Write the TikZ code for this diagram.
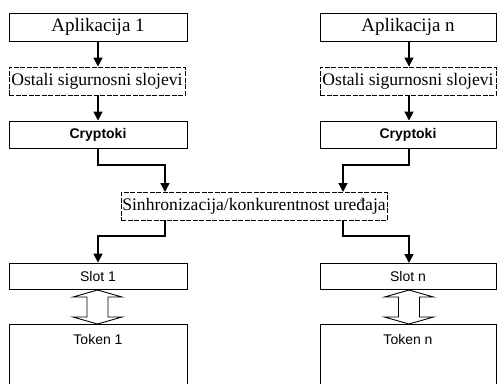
\documentclass[tikz,border=0pt]{standalone}
\usepackage{fontspec}
\setmainfont{Liberation Serif}
\setsansfont{Liberation Sans}
\usetikzlibrary{arrows.meta}
\begin{document}
\begin{tikzpicture}[x=1pt,y=-1pt,
  box/.style={draw, line width=0.9pt, fill=white, inner sep=0pt,
    minimum width=178pt, minimum height=28pt},
  dbox/.style={box, dash pattern=on 5pt off 1.5pt},
  serif/.style={font=\fontsize{17.6}{20}\selectfont},
  app/.style={font=\fontsize{19}{22}\selectfont},
  sans/.style={font=\sffamily\fontsize{14}{16}\selectfont},
  sansb/.style={font=\sffamily\bfseries\fontsize{14}{16}\selectfont},
  conn/.style={line width=1.6pt, -{Triangle[width=9pt,length=9pt]}},
  hollow/.style={draw, line width=0.9pt, fill=white, line join=miter},
  tokenbox/.style={draw, line width=0.9pt}]
\useasboundingbox (0,0) rectangle (497,383);

% left column
\node[box, app] (a1) at (98,27) {Aplikacija 1};
\node[dbox, serif, minimum width=176pt] (o1) at (97,81) {Ostali sigurnosni slojevi};
\node[box, sansb, minimum height=27pt] (c1) at (98,134.5) {Cryptoki};
\node[box, sans, minimum height=26pt] (s1) at (98,276) {Slot 1};
\draw[tokenbox] (9,384) |- (187,324) -- (187,384);
\node[sans] (t1) at (98,339.5) {Token 1};

% right column
\node[box, app, minimum width=176pt] (an) at (408,27) {Aplikacija n};
\node[dbox, serif, minimum width=176pt] (on) at (408,81) {Ostali sigurnosni slojevi};
\node[box, sansb, minimum width=176pt, minimum height=27pt] (cn) at (408,134.5) {Cryptoki};
\node[box, sans, minimum width=176pt, minimum height=26pt] (sn) at (408,276) {Slot n};
\draw[tokenbox] (320,384) |- (496,324) -- (496,384);
\node[sans] (tn) at (408,339.5) {Token n};

% shared layer
\node[dbox, serif, minimum width=266pt] (sy) at (254,206) {Sinhronizacija/konkurentnost uređaja};

% entry and exit points on the shared layer
\coordinate (syin1) at (165,192);
\coordinate (syinn) at (343,192);
\coordinate (syout1) at (165,220);
\coordinate (syoutn) at (343,220);

% vertical flow within each column
\draw[conn] (a1.south -| 98,0) -- (o1.north -| 98,0);
\draw[conn] (o1.south -| 98,0) -- (c1.north);
\draw[conn] (an.south -| 409,0) -- (on.north -| 409,0);
\draw[conn] (on.south -| 409,0) -- (cn.north -| 409,0);

% into and out of the shared layer
\draw[conn] (c1.south) -- (c1.south |- 0,165) -| (syin1);
\draw[conn] (cn.south -| 409,0) -- (409,165) -| (syinn);
\draw[conn] (syout1) -- (syout1 |- 0,236) -| (s1.north);
\draw[conn] (syoutn) -- (syoutn |- 0,236) -| (409,263);

% hollow double arrows between slot and token
\foreach \cx/\nm in {97.5/1, 409/n} {
  \draw[hollow] (\cx,290) -- (\cx+24.5,297) -- (\cx+10.5,297) -- (\cx+10.5,317)
    -- (\cx+24.5,317) -- (\cx,324) -- (\cx-24.5,317) -- (\cx-10.5,317)
    -- (\cx-10.5,297) -- (\cx-24.5,297) -- cycle;
}
\end{tikzpicture}
\end{document}
